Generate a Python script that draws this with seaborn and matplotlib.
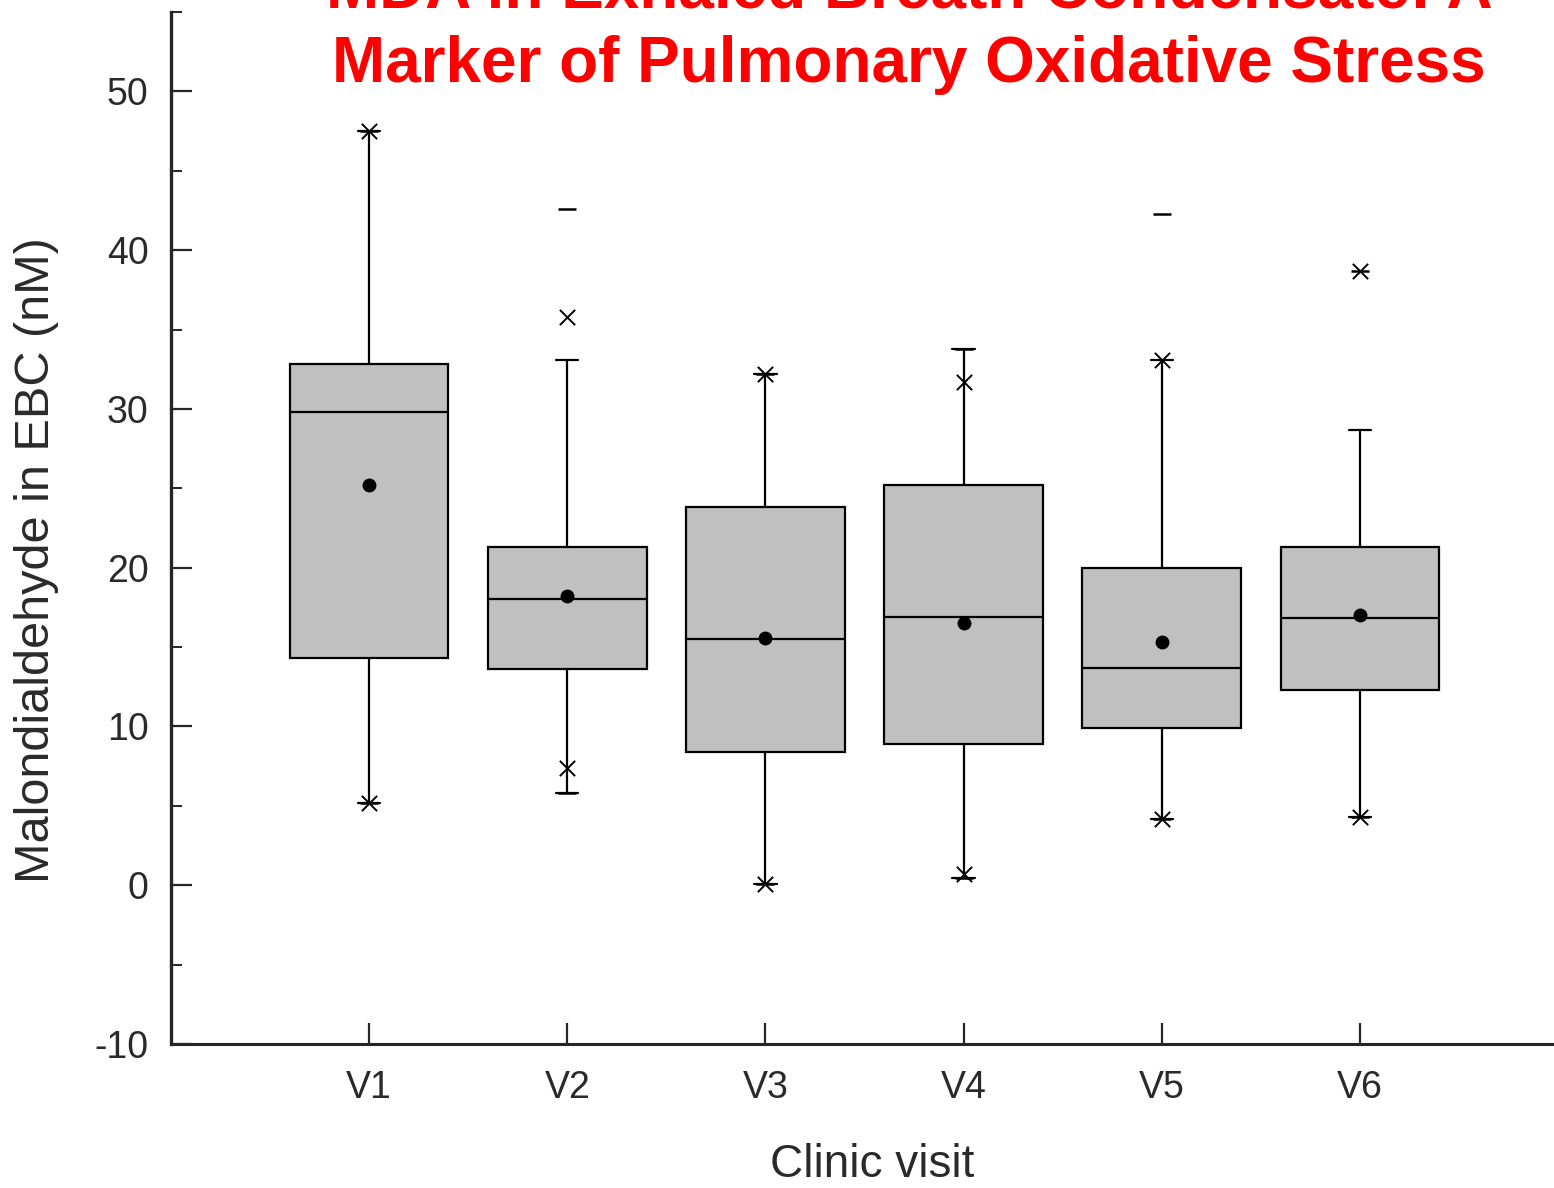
import numpy as np
import pandas as pd
import matplotlib
matplotlib.use("Agg")
import matplotlib.pyplot as plt
from matplotlib.ticker import MultipleLocator
import seaborn as sns

# values (nM)
visits = ["V1", "V2", "V3", "V4", "V5", "V6"]
whisk_lo = [5.2, 5.8, 0.06, 0.44, 4.15, 4.3]
q1 = [14.3, 13.6, 8.4, 8.9, 9.9, 12.3]
median = [29.8, 18.0, 15.5, 16.9, 13.7, 16.8]
q3 = [32.8, 21.3, 23.8, 25.2, 20.0, 21.3]
whisk_hi = [47.5, 33.1, 32.2, 33.8, 33.1, 28.7]
means = [25.2, 18.2, 15.6, 16.5, 15.35, 17.0]
pct_lo = [5.2, 7.4, 0.06, 0.7, 4.15, 4.3]      # x markers
pct_hi = [47.5, 35.8, 32.2, 31.7, 33.1, 38.7]  # x markers
val_min = [5.2, 5.8, 0.06, 0.44, 4.15, 4.3]    # dash markers
val_max = [47.5, 42.6, 32.2, 33.8, 42.3, 38.7]  # dash markers

# five points per visit reproduce the box statistics exactly
rows = []
for i, v in enumerate(visits):
    for val in (whisk_lo[i], q1[i], median[i], q3[i], whisk_hi[i]):
        rows.append({"visit": v, "mda": val})
box_df = pd.DataFrame(rows)
summ = pd.DataFrame({"visit": visits, "mean": means, "plo": pct_lo, "phi": pct_hi,
                     "vmin": val_min, "vmax": val_max})

sns.set_style("ticks")
plt.rcParams["font.family"] = ["Liberation Sans", "DejaVu Sans"]
plt.rcParams["axes.unicode_minus"] = False

fig = plt.figure(figsize=(15.54, 11.88), dpi=100)
ax = fig.add_axes([171 / 1554, 144 / 1188, 1 - 171 / 1554, 1032 / 1188])

sns.boxplot(data=box_df, x="visit", y="mda", order=visits, whis=(0, 100),
            width=0.8, color="#c0c0c0", saturation=1, linecolor="black",
            linewidth=1.6, fliersize=0, ax=ax)

# short whisker caps
for cont in ax.containers:
    caps = getattr(cont, "caps", None)
    if caps is None:
        continue
    for cap in caps:
        xd = np.asarray(cap.get_xdata(), dtype=float)
        c = xd.mean()
        cap.set_xdata([c - 0.056, c + 0.056])
        cap.set_linewidth(1.6)

sns.stripplot(data=summ, x="visit", y="mean", order=visits, jitter=False,
              color="black", size=10, marker="o", ax=ax, zorder=5)
for col in ("plo", "phi"):
    sns.stripplot(data=summ, x="visit", y=col, order=visits, jitter=False,
                  color="black", size=11, marker="x", linewidth=1.4, ax=ax, zorder=5)
for col in ("vmin", "vmax"):
    sns.stripplot(data=summ, x="visit", y=col, order=visits, jitter=False,
                  color="black", size=13, marker="_", linewidth=1.8, ax=ax, zorder=5)

ax.set_xlim(-1, 5.98)
ax.set_ylim(-10, 55)
ax.yaxis.set_major_locator(MultipleLocator(10))
ax.yaxis.set_minor_locator(MultipleLocator(5))
ax.set_yticks([-10, 0, 10, 20, 30, 40, 50])

for s in ("top", "right"):
    ax.spines[s].set_visible(False)
ax.spines["left"].set_linewidth(2.4)
ax.spines["bottom"].set_linewidth(2.2)

ax.tick_params(axis="y", which="major", direction="in", length=15, width=1.6,
               labelsize=27, pad=16, labelcolor="#2a2a2a")
ax.tick_params(axis="y", which="minor", direction="in", length=8, width=1.4)
ax.tick_params(axis="x", which="major", direction="in", length=15, width=1.6,
               labelsize=27, pad=19, labelcolor="#2a2a2a")

ax.set_xlabel("Clinic visit", fontsize=33, color="#2a2a2a")
ax.set_ylabel("Malondialdehyde in EBC (nM)", fontsize=35, color="#2a2a2a")
ax.xaxis.set_label_coords(0.507, -0.096)
ax.yaxis.set_label_coords(-0.081, 0.469)

fig.text(909 / 1554, 1 - 95 / 1188,
         "MDA in Exhaled Breath Condensate: A\nMarker of Pulmonary Oxidative Stress",
         ha="center", va="bottom", fontsize=46, fontweight="bold", color="#ff0000",
         linespacing=1.3)

fig.savefig("out.png", dpi=100)
